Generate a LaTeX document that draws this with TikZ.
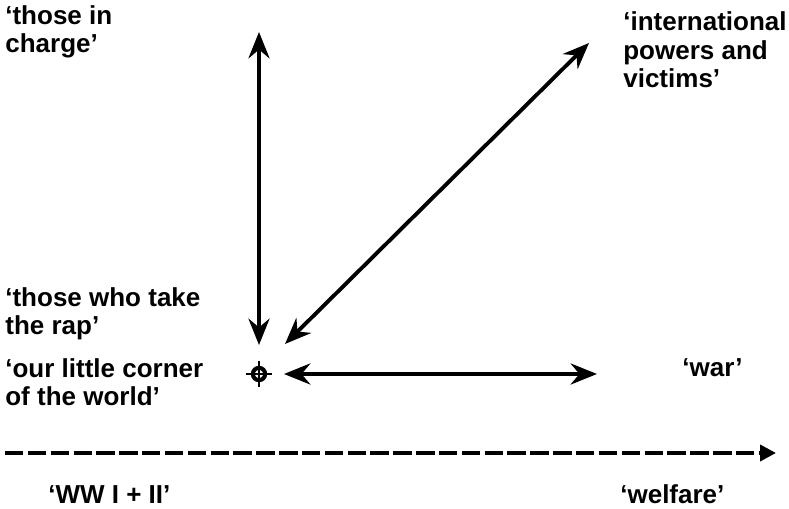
\documentclass[tikz,border=0pt]{standalone}
\usepackage{fontspec}
\setmainfont{Liberation Sans}
\usetikzlibrary{arrows.meta, positioning}
\tikzset{
	labeltext/.style={font=\fontsize{14.8}{16.5}\selectfont\bfseries, align=left, inner sep=0pt, anchor=base west}
}
\tikzset{
	twohead/.style={line width=2.2pt, {Stealth[length=15pt,width=12pt,inset=5pt]}-{Stealth[length=15pt,width=12pt,inset=5pt]}}
}
\tikzset{
	timeline/.style={line width=2.2pt, dash pattern=on 10.5pt off 2.5pt, -{Triangle[length=9pt,width=9pt]}}
}
\tikzset{
	crosshair/.style={circle, draw, line width=2.3pt, minimum size=7pt, inner sep=0pt}
}

\begin{document}
\begin{tikzpicture}[x=0.02cm, y=-0.02cm]

	\useasboundingbox (0,0) rectangle (789,509);

	\begin{scope}
		\node[labeltext] (charge) at (5,53) {`those in\\charge'};
		\node[labeltext] (powers) at (623,88) {`international\\powers and\\victims'};
		\node[labeltext] (rap) at (5,335) {`those who take\\the rap'};
		\node[labeltext] (corner) at (5,406) {`our little corner\\of the world'};
		\node[labeltext] (war) at (682,377) {`war'};
		\node[labeltext] (wars) at (48,504) {`WW I + II'};
		\node[labeltext] (welfare) at (620,504) {`welfare'};
	\end{scope}

	\begin{scope}
		\coordinate (cA) at (259,32);
		\coordinate (cB) at (259,345);
		\coordinate (cC) at (589,43);
		\coordinate (cD) at (285,344);
		\coordinate (cE) at (284,374);
		\coordinate (cF) at (597,374);
		\coordinate (axisA) at (5,453);
		\coordinate (axisB) at (776,453);

		\node[crosshair] (here) at (259,374) {};
		\draw[line width=1.3pt] ([xshift=-3pt]here.west) -- ([xshift=3pt]here.east);
		\draw[line width=1.3pt] ([yshift=3pt]here.north) -- ([yshift=-3pt]here.south);

		\draw[twohead] (cB) -- (cA);
		\draw[twohead] (cD) -- (cC);
		\draw[twohead] (cE) -- (cF);
		\draw[timeline] (axisA) -- (axisB);
	\end{scope}

\end{tikzpicture}
\end{document}
